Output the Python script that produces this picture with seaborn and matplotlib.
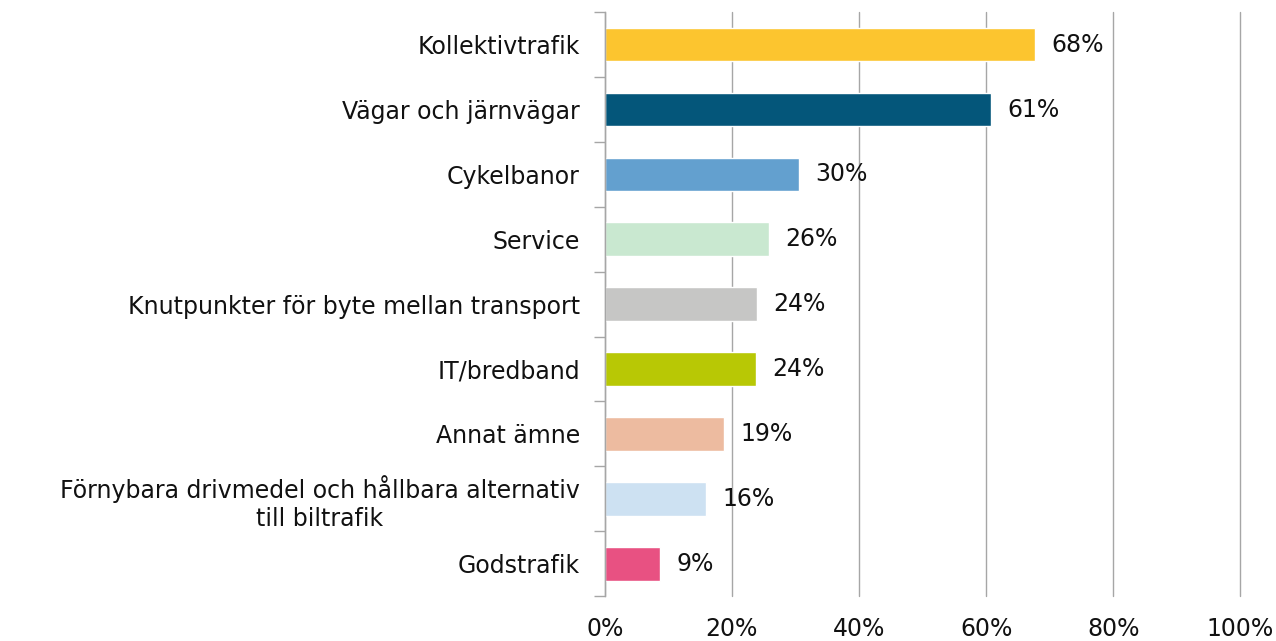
import numpy as np
import pandas as pd
import matplotlib
matplotlib.use('Agg')
import matplotlib.pyplot as plt
from matplotlib.ticker import FixedLocator
import seaborn as sns

categories = ['Kollektivtrafik', 'Vägar och järnvägar', 'Cykelbanor', 'Service',
              'Knutpunkter för byte mellan transport', 'IT/bredband', 'Annat ämne',
              'Förnybara drivmedel och hållbara alternativ\ntill biltrafik', 'Godstrafik']
shares = [67.7, 60.8, 30.5, 25.8, 23.9, 23.8, 18.7, 15.9, 8.7]
shown = ['68%', '61%', '30%', '26%', '24%', '24%', '19%', '16%', '9%']
colors = ['#FCC52F', '#04567A', '#63A0CF', '#C9E8D0', '#C6C6C5',
          '#B8C805', '#EDBBA0', '#CDE1F2', '#E85182']
xticks = [0, 20, 40, 60, 80, 100]

df = pd.DataFrame({'cat': categories, 'share': shares})

sns.set_style('white')
plt.rcParams['font.family'] = ['DejaVu Sans']

fig = plt.figure(figsize=(12.76, 6.41), dpi=100)
ax = fig.add_axes([0.474, 0.070, 0.498, 0.911])

sns.barplot(data=df, y='cat', x='share', hue='cat', palette=colors, legend=False,
            orient='h', width=0.52, saturation=1, ax=ax)

# one container per hue level, so one label each
for cont, lab in zip(ax.containers, shown):
    txt = ax.bar_label(cont, labels=[lab], padding=12, fontsize=17, color='#111111')

ax.set_xlim(0, 100)
ax.set_ylim(len(categories) - 0.5, -0.5)
ax.set_xticks(xticks)
ax.set_xticklabels([f'{t}%' for t in xticks], fontsize=17, color='#111111')
ax.tick_params(axis='x', length=0, pad=15)
ax.tick_params(axis='y', which='major', length=0, pad=18, labelsize=17, labelcolor='#111111')
ax.yaxis.set_minor_locator(FixedLocator(np.arange(-0.5, len(categories), 1)))
ax.tick_params(axis='y', which='minor', length=8, width=1, color='#A6A6A6', left=True)
for lab in ax.get_yticklabels():
    lab.set_multialignment('center')

ax.grid(axis='x', color='#A6A6A6', linewidth=1)
ax.grid(axis='y', visible=False)
for gl in ax.get_xgridlines():
    gl.set_clip_on(False)
ax.set_axisbelow(True)
for s in ['top', 'right', 'bottom']:
    ax.spines[s].set_visible(False)
ax.spines['left'].set_color('#A6A6A6')
ax.spines['left'].set_linewidth(1)
ax.set_xlabel('')
ax.set_ylabel('')

fig.savefig('out.png', dpi=100)
